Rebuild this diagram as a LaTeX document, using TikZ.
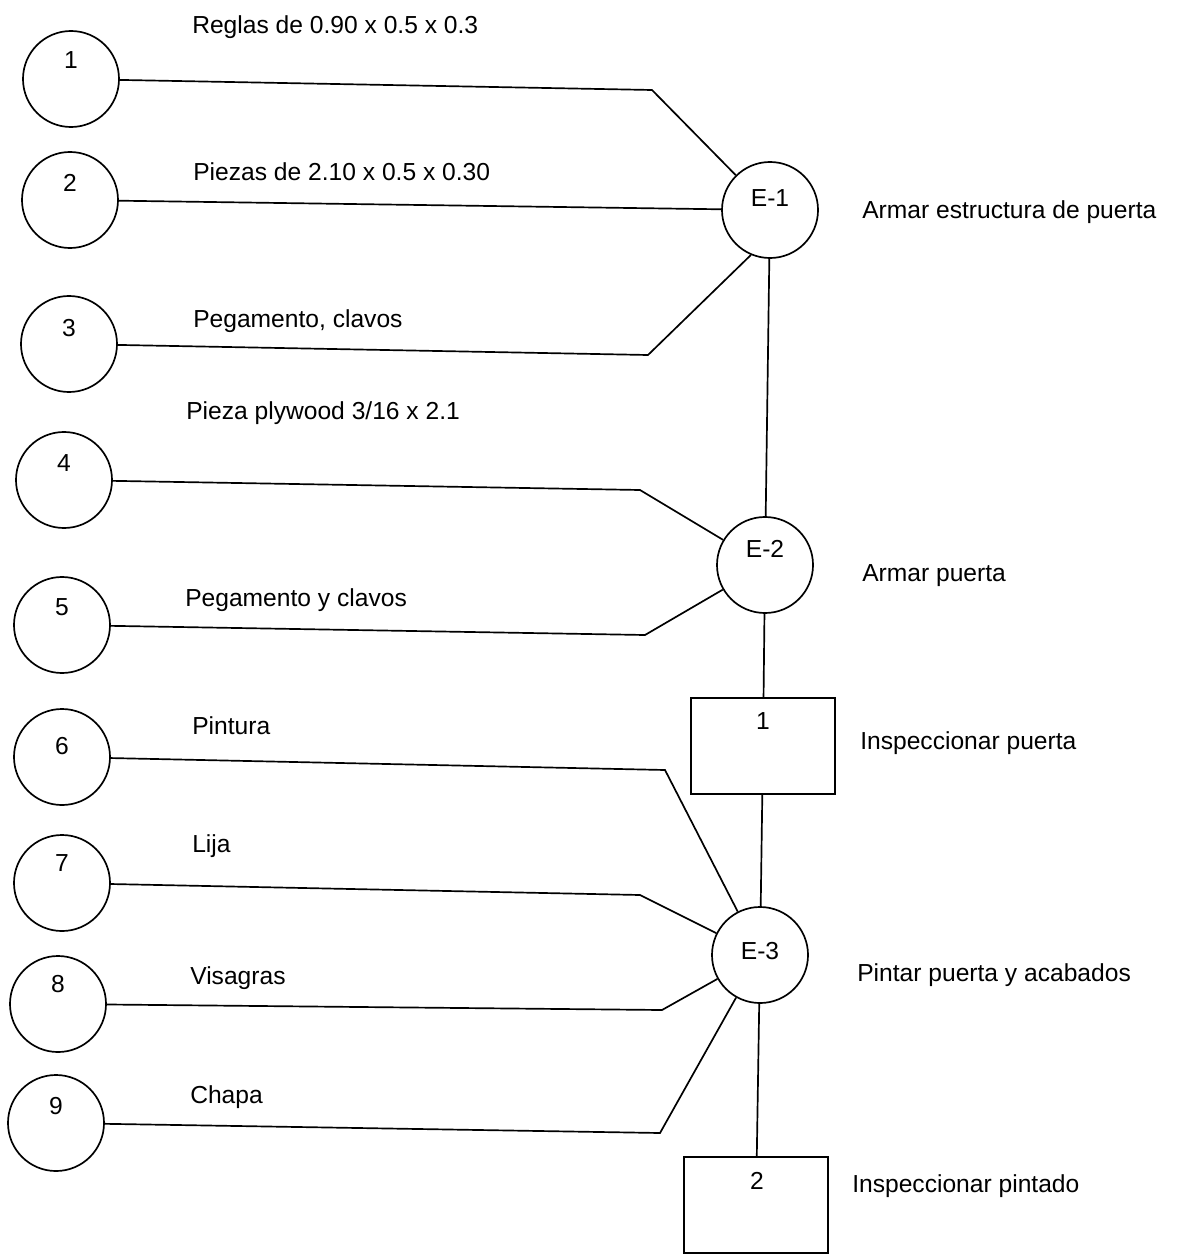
\documentclass[tikz,border=0pt]{standalone}
\usepackage{fontspec}
\setmainfont{Liberation Sans}
\usetikzlibrary{positioning}

\begin{document}
\begin{tikzpicture}[
    x=0.025cm, y=-0.025cm,
    supply/.style={circle, draw, line width=1.2pt, minimum size=2.4cm, inner sep=0pt},
    oper/.style={circle, draw, line width=1.2pt, minimum size=2.4cm, inner sep=0pt},
    insp/.style={rectangle, draw, line width=1.2pt, minimum width=3.6cm, minimum height=2.4cm, inner sep=0pt},
    tag/.style={font=\fontsize{17.5}{20}\selectfont, anchor=base, inner sep=0pt},
    note/.style={font=\fontsize{17.5}{20}\selectfont, anchor=base west, inner sep=0pt},
    link/.style={line width=1.2pt}
]
    \useasboundingbox (0,0) rectangle (1177,1254);

    % Materials
    \node[supply] (c1) at (71,79) {};
    \node[supply] (c2) at (70,200) {};
    \node[supply] (c3) at (69,344) {};
    \node[supply] (c4) at (64,480) {};
    \node[supply] (c5) at (62,625) {};
    \node[supply] (c6) at (62,757) {};
    \node[supply] (c7) at (62,883) {};
    \node[supply] (c8) at (58,1004) {};
    \node[supply] (c9) at (56,1123) {};
    \node[tag] (n1) at (71,69) {1};
    \node[tag] (n2) at (70,192) {2};
    \node[tag] (n3) at (69,336) {3};
    \node[tag] (n4) at (64,471) {4};
    \node[tag] (n5) at (62,615) {5};
    \node[tag] (n6) at (62,754) {6};
    \node[tag] (n7) at (62,871) {7};
    \node[tag] (n8) at (58,992) {8};
    \node[tag] (n9) at (56,1114) {9};

    % Material names
    \node[note] (m1) at (192,34) {Reglas de 0.90 x 0.5 x 0.3};
    \node[note] (m2) at (193,181) {Piezas de 2.10 x 0.5 x 0.30};
    \node[note] (m3) at (193,327) {Pegamento, clavos};
    \node[note] (m4) at (186,419) {Pieza plywood 3/16 x 2.1};
    \node[note] (m5) at (185,606) {Pegamento y clavos};
    \node[note] (m6) at (192,734) {Pintura};
    \node[note] (m7) at (192,852) {Lija};
    \node[note] (m8) at (190,984) {Visagras};
    \node[note] (m9) at (190,1103) {Chapa};

    % Operations and inspections
    \node[oper] (e1) at (770,210) {};
    \node[oper] (e2) at (765,565) {};
    \node[insp] (i1) at (763,746) {};
    \node[oper] (e3) at (760,955) {};
    \node[insp] (i2) at (756,1205) {};
    \node[tag] (le1) at (770,207) {E-1};
    \node[tag] (le2) at (765,557) {E-2};
    \node[tag] (li1) at (763,729) {1};
    \node[tag] (le3) at (760,959) {E-3};
    \node[tag] (li2) at (757,1189) {2};

    % Step names
    \node[note] (s1) at (862,219) {Armar estructura de puerta};
    \node[note] (s2) at (862,581) {Armar puerta};
    \node[note] (s3) at (860,749) {Inspeccionar puerta};
    \node[note] (s4) at (857,981) {Pintar puerta y acabados};
    \node[note] (s5) at (852,1192) {Inspeccionar pintado};

    % Bends
    \coordinate (k1) at (652,90);
    \coordinate (k3) at (648,355);
    \coordinate (k4) at (640,490);
    \coordinate (k5) at (645,635);
    \coordinate (k6) at (665,770);
    \coordinate (k7) at (640,895);
    \coordinate (k8) at (662,1010);
    \coordinate (k9) at (660,1133);

    \draw[link] (c1) -- (k1) -- (e1);
    \draw[link] (c2) -- (e1);
    \draw[link] (c3) -- (k3) -- (e1.-113);
    \draw[link] (c4) -- (k4) -- (e2);
    \draw[link] (c5) -- (k5) -- (e2);
    \draw[link] (c6) -- (k6) -- (e3);
    \draw[link] (c7) -- (k7) -- (e3);
    \draw[link] (c8) -- (k8) -- (e3);
    \draw[link] (c9) -- (k9) -- (e3);
    \draw[link] (e1) -- (e2);
    \draw[link] (e2) -- (i1);
    \draw[link] (i1) -- (e3);
    \draw[link] (e3) -- (i2);
\end{tikzpicture}
\end{document}
